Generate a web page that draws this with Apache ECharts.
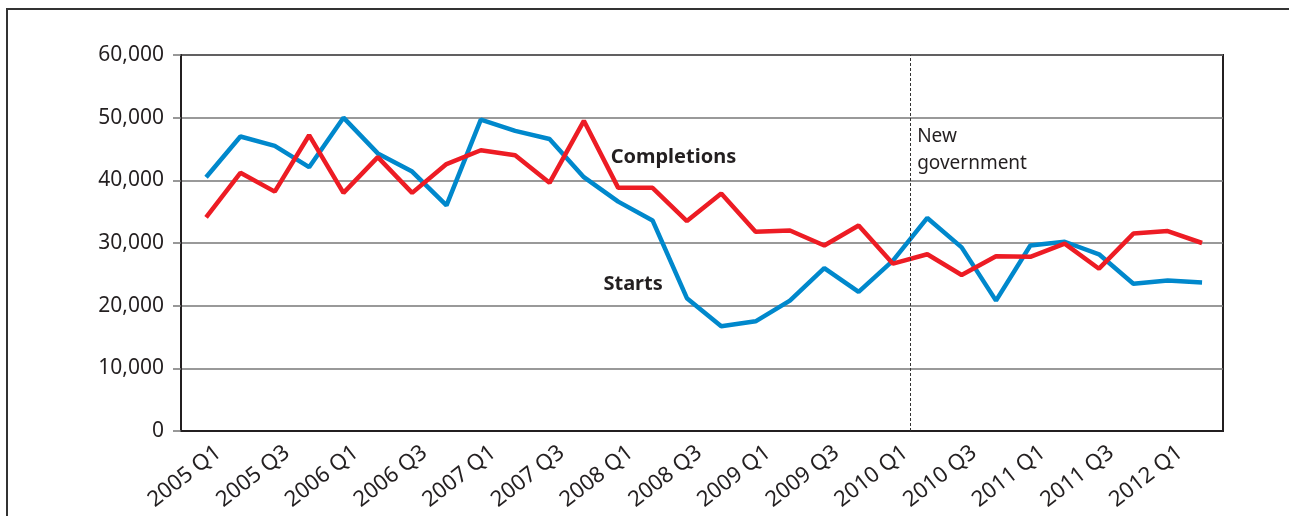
<!DOCTYPE html>
<html>
<head>
<meta charset="utf-8">
<script src="https://cdn.jsdelivr.net/npm/echarts@6/dist/echarts.min.js"></script>
<style>
  html, body { margin: 0; padding: 0; background: #fff; }
  #chart { width: 1289px; height: 516px; }
</style>
</head>
<body>
<div id="chart"></div>
<script>
// quarters, 2005 Q1 .. 2012 Q2
var quarters = [
  '2005 Q1', '2005 Q2', '2005 Q3', '2005 Q4',
  '2006 Q1', '2006 Q2', '2006 Q3', '2006 Q4',
  '2007 Q1', '2007 Q2', '2007 Q3', '2007 Q4',
  '2008 Q1', '2008 Q2', '2008 Q3', '2008 Q4',
  '2009 Q1', '2009 Q2', '2009 Q3', '2009 Q4',
  '2010 Q1', '2010 Q2', '2010 Q3', '2010 Q4',
  '2011 Q1', '2011 Q2', '2011 Q3', '2011 Q4',
  '2012 Q1', '2012 Q2'
];
var starts = [
  40500, 47000, 45500, 42100, 50000, 44300, 41400, 36000,
  49700, 47900, 46600, 40500, 36600, 33600, 21200, 16700,
  17500, 20800, 26000, 22200, 27200, 34000, 29300, 20800,
  29600, 30200, 28200, 23500, 24000, 23700
];
var completions = [
  34100, 41200, 38200, 47200, 38000, 43700, 38000, 42600,
  44800, 44000, 39600, 49500, 38800, 38800, 33500, 37900,
  31800, 32000, 29600, 32800, 26700, 28200, 24900, 27900,
  27800, 29900, 25900, 31500, 31900, 30000
];
var yTicks = [0, 10000, 20000, 30000, 40000, 50000, 60000];
var labelIdx = [0, 2, 4, 6, 8, 10, 12, 14, 16, 18, 20, 22, 24, 26, 28];
var govAt = 20.5; // between 2010 Q1 and Q2

function pairs(arr) {
  return arr.map(function (v, i) { return [i, v]; });
}

var font = 'Noto Sans';
var labelShift = 0.36; // rotated labels sit a little right of their point
var chart = echarts.init(document.getElementById('chart'));

var option = {
  animation: false,
  backgroundColor: '#fff',
  textStyle: { fontFamily: font },
  grid: {
    left: 181, right: 66, top: 55, bottom: 85,
    show: true, borderColor: '#231f20', borderWidth: 2
  },
  graphic: [{
    type: 'rect',
    shape: { x: 7, y: 9, width: 1300, height: 540 },
    style: { fill: 'none', stroke: '#333', lineWidth: 2 }
  }],
  xAxis: {
    type: 'value',
    min: -0.73,
    max: 29.61,
    axisLine: { onZero: false, lineStyle: { color: '#231f20', width: 2 } },
    axisTick: { show: false },
    splitLine: { show: false },
    axisLabel: {
      customValues: labelIdx.map(function (i) { return i + labelShift; }),
      rotate: 38,
      margin: 19,
      fontSize: 22,
      color: '#231f20',
      fontFamily: font,
      formatter: function (v) { return quarters[Math.floor(v)]; }
    }
  },
  yAxis: {
    type: 'value',
    min: yTicks[0],
    max: yTicks[yTicks.length - 1],
    interval: 10000,
    axisLine: { show: true, onZero: false, lineStyle: { color: '#231f20', width: 2 } },
    axisTick: { show: true, length: 8, lineStyle: { color: '#777', width: 1.5 } },
    splitLine: { lineStyle: { color: '#777', width: 1.5 } },
    axisLabel: {
      margin: 17,
      fontSize: 21,
      color: '#231f20',
      fontFamily: font,
      formatter: function (v) { return v === 0 ? '0' : v.toLocaleString('en-GB'); }
    }
  },
  series: [
    {
      name: 'Starts',
      type: 'line',
      data: pairs(starts),
      symbol: 'none',
      lineStyle: { color: '#0088cc', width: 4.5 },
      z: 3,
      markLine: {
        silent: true,
        symbol: 'none',
        label: { show: false },
        lineStyle: { color: '#333', width: 1, type: [3, 2] },
        data: [{ xAxis: govAt }]
      },
      markPoint: {
        symbol: 'circle',
        symbolSize: 0,
        data: [
          {
            coord: [11.57, 23400],
            label: {
              show: true, position: 'right', distance: 0,
              formatter: 'Starts', fontSize: 20, fontWeight: 'bold',
              color: '#231f20', fontFamily: font
            }
          },
          {
            coord: [11.78, 43750],
            label: {
              show: true, position: 'right', distance: 0,
              formatter: 'Completions', fontSize: 20, fontWeight: 'bold',
              color: '#231f20', fontFamily: font
            }
          },
          {
            coord: [govAt, 44800],
            label: {
              show: true, position: 'right', distance: 7,
              formatter: 'New\ngovernment', fontSize: 19, lineHeight: 27,
              color: '#231f20', fontFamily: font
            }
          }
        ]
      }
    },
    {
      name: 'Completions',
      type: 'line',
      data: pairs(completions),
      symbol: 'none',
      lineStyle: { color: '#ed1c24', width: 4.5 },
      z: 4
    }
  ]
};

chart.setOption(option);
</script>
</body>
</html>
